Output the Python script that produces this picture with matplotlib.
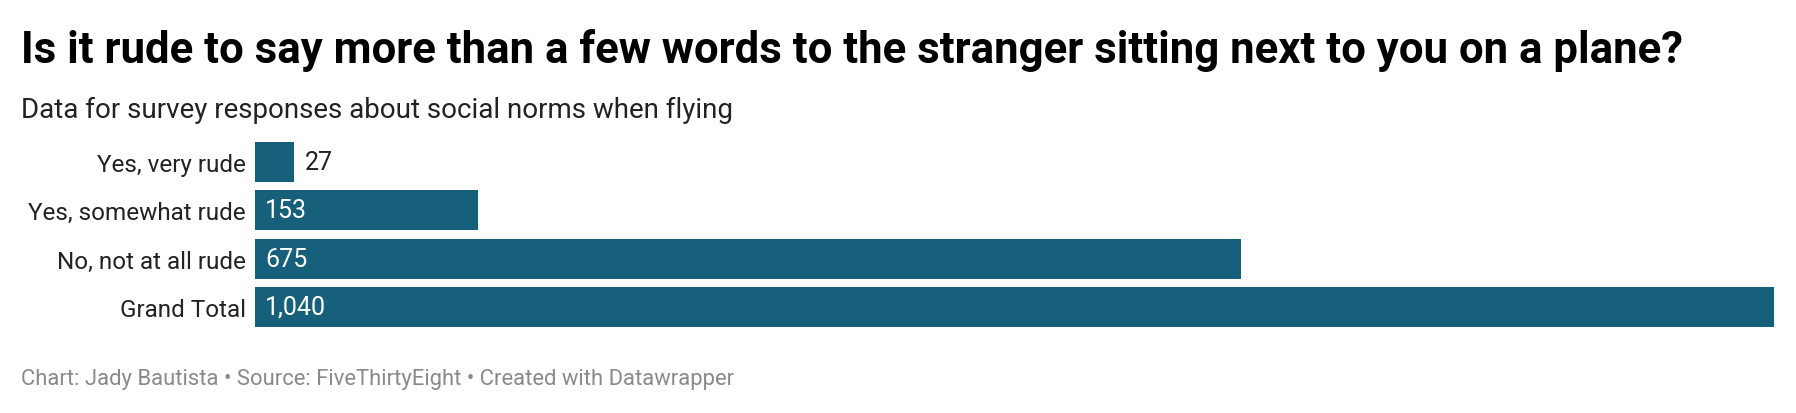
import matplotlib
matplotlib.use("Agg")
import matplotlib.pyplot as plt

categories = ["Yes, very rude", "Yes, somewhat rude", "No, not at all rude", "Grand Total"]
values = [27, 153, 675, 1040]

title = "Is it rude to say more than a few words to the stranger sitting next to you on a plane?"
subtitle = "Data for survey responses about social norms when flying"
footer = "Chart: Jady Bautista \u2022 Source: FiveThirtyEight \u2022 Created with Datawrapper"

barColor = "#17607c"
W, H = 1796, 414

plt.rcParams['font.family'] = ['Roboto', 'DejaVu Sans']

fig = plt.figure(figsize=(W / 100, H / 100), dpi=100)
fig.patch.set_facecolor("white")

# axes placed in pixel terms
axLeft, axRight, axTop, axBottom = 255, 1774, 139, 332
ax = fig.add_axes([axLeft / W, 1 - axBottom / H, (axRight - axLeft) / W, (axBottom - axTop) / H])

ypos = list(range(len(categories)))
ax.barh(ypos, values, height=0.83, color=barColor)
ax.set_xlim(0, max(values))
ax.set_ylim(len(categories) - 0.5, -0.5)
ax.set_yticks(ypos)
ax.set_yticklabels(categories, fontsize=17.5, color="#222222")
ax.tick_params(axis="y", length=0, pad=6.5)
ax.set_xticks([])
for s in ax.spines.values():
    s.set_visible(False)

for y, v in zip(ypos, values):
    label = f"{v:,}"
    if v / max(values) < 0.05:
        ax.annotate(label, (v, y), xytext=(7.5, 0), textcoords="offset points",
                    va="center", ha="left", fontsize=18, color="#222222")
    else:
        ax.annotate(label, (0, y), xytext=(7.5, 0), textcoords="offset points",
                    va="center", ha="left", fontsize=18, color="white")

fig.text(21 / W, 1 - 51 / H, title, fontsize=31.5, fontweight="bold",
         color="black", va="center", ha="left")
fig.text(21 / W, 1 - 110 / H, subtitle, fontsize=20, color="#222222",
         va="center", ha="left")
fig.text(21 / W, 1 - 380 / H, footer, fontsize=15.8, color="#8a8a8a",
         va="center", ha="left")

fig.savefig("out.png", dpi=100, facecolor="white")
